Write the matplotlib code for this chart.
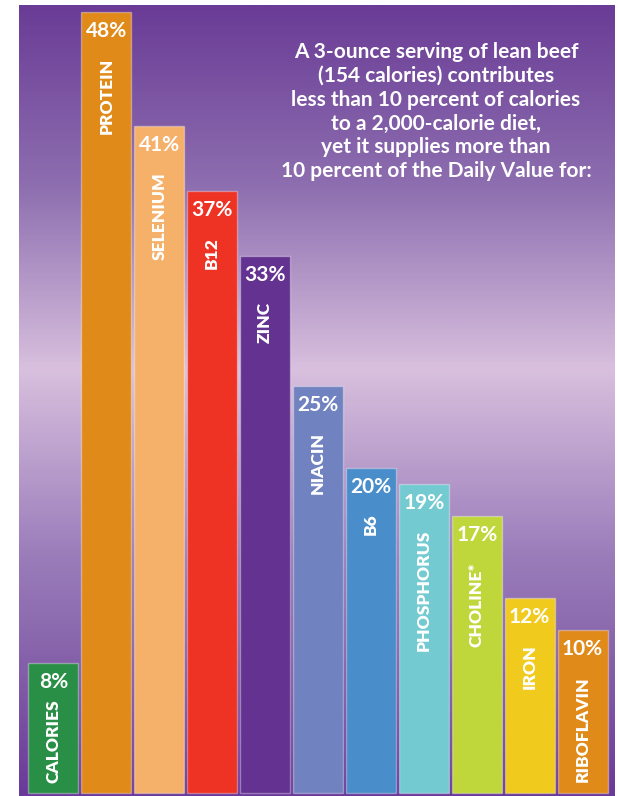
import matplotlib.pyplot as plt
import numpy as np
from matplotlib.colors import LinearSegmentedColormap

plt.rcParams['font.family'] = ['Lato', 'DejaVu Sans']

# data
nutrients = ['CALORIES', 'PROTEIN', 'SELENIUM', 'B12', 'ZINC', 'NIACIN',
             'B6', 'PHOSPHORUS', 'CHOLINE*', 'IRON', 'RIBOFLAVIN']
percents = [8, 48, 41, 37, 33, 25, 20, 19, 17, 12, 10]
colors = ['#2a8f46', '#e08a1a', '#f5b06a', '#ee3224', '#643290', '#7182c0',
          '#4a8dcb', '#73cad1', '#bfd73a', '#f1ca1e', '#e08a1a']

title = ('A 3-ounce serving of lean beef\n(154 calories) contributes\n'
         'less than 10 percent of calories\nto a 2,000-calorie diet,\n'
         'yet it supplies more than\n10 percent of the Daily Value for:')

W, H = 618, 796
fig = plt.figure(figsize=(W / 100, H / 100), dpi=100)
fig.patch.set_facecolor('white')

# purple panel
ax = fig.add_axes([19 / W, 0, (615 - 19) / W, (796 - 5) / H])
pxu = 16.27  # pixels per percent
ylo = -3 / pxu
yhi = (793 - 5) / pxu
xlo, xhi = -0.652, 10.614
ax.set_xlim(xlo, xhi)
ax.set_ylim(ylo, yhi)
ax.axis('off')

# vertical background gradient (top -> bottom)
grad = LinearSegmentedColormap.from_list('bg', [
    (0.0, '#6a3c96'), (0.23, '#8e6fb0'), (0.46, '#d8c0de'),
    (0.70, '#9a7cba'), (0.80, '#8a68ad'), (1.0, '#6a3a9a')])
g = np.linspace(0, 1, 400).reshape(-1, 1)
ax.imshow(g, cmap=grad, aspect='auto', extent=[xlo, xhi, ylo, yhi],
          origin='upper', zorder=0)

x = np.arange(len(nutrients))
ax.bar(x, percents, width=0.945, color=colors,
       edgecolor=(1, 1, 1, 0.35), linewidth=1, zorder=2)

for xi, p, name in zip(x, percents, nutrients):
    ax.text(xi, p - 9 / pxu, f'{p}%', ha='center', va='top', color='white',
            fontsize=15, fontweight='bold', zorder=3)
    # short bar: name sits closer to the value so it fits
    off = 46 if p >= 10 else 37
    ax.text(xi, p - off / pxu, name, ha='center', va='top', rotation=90,
            color='white', fontsize=12.5, fontweight='heavy', zorder=3)

fig.text(436 / W, 1 - 42 / H, title, ha='center', va='top',
         multialignment='center', color='white', fontsize=15,
         fontweight='bold', linespacing=1.24)

fig.savefig('out.png', dpi=100)
